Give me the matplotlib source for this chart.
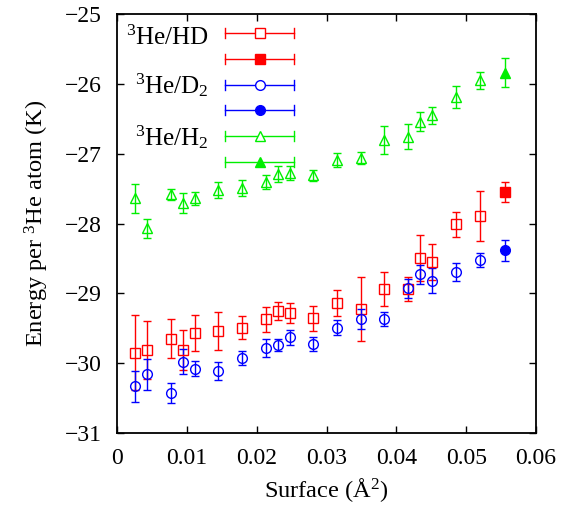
import matplotlib
matplotlib.use('Agg')
import matplotlib.pyplot as plt

plt.rcParams['font.family'] = ['Liberation Serif', 'DejaVu Serif']
plt.rcParams['mathtext.fontset'] = 'custom'
plt.rcParams['mathtext.rm'] = 'Liberation Serif'
plt.rcParams['mathtext.it'] = 'Liberation Serif:italic'
plt.rcParams['font.size'] = 17

# Surface (A^2)
surface = [0.00258, 0.00434, 0.00769, 0.00941, 0.01117, 0.01451, 0.01794,
           0.02129, 0.02301, 0.02477, 0.02811, 0.03146, 0.0349, 0.03828,
           0.04172, 0.04339, 0.04515, 0.04855, 0.05198]
surface_full = [0.05556]

# 3He/HD
hd_e = [-29.85, -29.81, -29.65, -29.81, -29.57, -29.54, -29.49, -29.37, -29.25,
        -29.28, -29.36, -29.14, -29.22, -28.94, -28.94, -28.49, -28.55, -28.01, -27.89]
hd_err = [0.54, 0.42, 0.28, 0.29, 0.26, 0.27, 0.17, 0.18, 0.13,
          0.14, 0.18, 0.19, 0.46, 0.24, 0.17, 0.33, 0.26, 0.18, 0.36]
hd_full_e = [-27.55]
hd_full_err = [0.14]

# 3He/D2
d2_e = [-30.33, -30.16, -30.43, -29.98, -30.08, -30.11, -29.92, -29.78, -29.74,
        -29.63, -29.72, -29.49, -29.37, -29.37, -28.93, -28.73, -28.82, -28.70, -28.52]
d2_err = [0.22, 0.22, 0.14, 0.18, 0.11, 0.13, 0.10, 0.13, 0.09,
          0.11, 0.10, 0.11, 0.14, 0.10, 0.14, 0.14, 0.18, 0.13, 0.10]
d2_full_e = [-28.38]
d2_full_err = [0.15]

# 3He/H2
h2_e = [-27.64, -28.07, -27.58, -27.71, -27.64, -27.52, -27.49, -27.40, -27.29,
        -27.28, -27.31, -27.09, -27.06, -26.80, -26.76, -26.54, -26.45, -26.19, -25.95]
h2_err = [0.21, 0.14, 0.08, 0.14, 0.09, 0.12, 0.12, 0.10, 0.11,
          0.10, 0.08, 0.10, 0.09, 0.20, 0.18, 0.13, 0.12, 0.16, 0.12]
h2_full_e = [-25.84]
h2_full_err = [0.21]

x_ticks = [0, 0.01, 0.02, 0.03, 0.04, 0.05, 0.06]
x_ticklabels = ['0', '0.01', '0.02', '0.03', '0.04', '0.05', '0.06']
y_ticks = [-31, -30, -29, -28, -27, -26, -25]

series = [
    (r'$^{3}$He/HD', '#ff0000', 's', hd_e, hd_err, hd_full_e, hd_full_err, 7),
    (r'$^{3}$He/D$_{2}$', '#0000ff', 'o', d2_e, d2_err, d2_full_e, d2_full_err, 7),
    (r'$^{3}$He/H$_{2}$', '#00ee00', '^', h2_e, h2_err, h2_full_e, h2_full_err, 7),
]

fig = plt.figure(figsize=(5.7, 5.09), dpi=100)
ax = fig.add_axes([0.2053, 0.1493, 0.7351, 0.8232])

for label, col, mk, e, err, fe, ferr, ms in series:
    ax.errorbar(surface, e, yerr=err, fmt=mk, color=col, mfc='none', mec=col,
                ms=ms, mew=1.0, elinewidth=1.0, capsize=3, capthick=1.0)
    ax.errorbar(surface_full, fe, yerr=ferr, fmt=mk, color=col, mfc=col, mec=col,
                ms=ms, mew=1.0, elinewidth=1.0, capsize=3, capthick=1.0)

# gnuplot style key
row_y = [0.9547, 0.8926, 0.8305, 0.7709, 0.7088, 0.6468]
label_y = [0.926, 0.8107, 0.6874]
x0, x1, xm = 0.2578, 0.4224, 0.3413
for i, (label, col, mk, *_rest) in enumerate(series):
    for j, filled in enumerate([False, True]):
        yy = row_y[2 * i + j]
        ax.plot([x0, x1], [yy, yy], color=col, lw=1.0, transform=ax.transAxes,
                clip_on=False)
        for xx in (x0, x1):
            ax.plot([xx, xx], [yy - 0.012, yy + 0.012], color=col, lw=1.0,
                    transform=ax.transAxes, clip_on=False)
        ax.plot([xm], [yy], marker=mk, color=col, mfc=col if filled else 'white',
                mec=col, ms=7, mew=1.0, transform=ax.transAxes, clip_on=False)
    ax.text(0.2196, label_y[i], label, transform=ax.transAxes, ha='right',
            va='baseline', fontsize=18)

ax.set_xlim(0, 0.06)
ax.set_ylim(-31, -25)
ax.set_xticks(x_ticks)
ax.set_xticklabels(x_ticklabels)
ax.set_yticks(y_ticks)
ax.tick_params(direction='in', length=5, width=1.0, top=True, right=True,
               labelsize=17, pad=11)
for sp in ax.spines.values():
    sp.set_linewidth(1.3)

ax.set_xlabel(r'Surface ($\mathrm{\AA}^{2}$)', fontsize=17.6, labelpad=5)
ax.set_ylabel(r'Energy per $^{3}$He atom (K)', fontsize=17.6, labelpad=10)

fig.savefig('out.png', dpi=100)
